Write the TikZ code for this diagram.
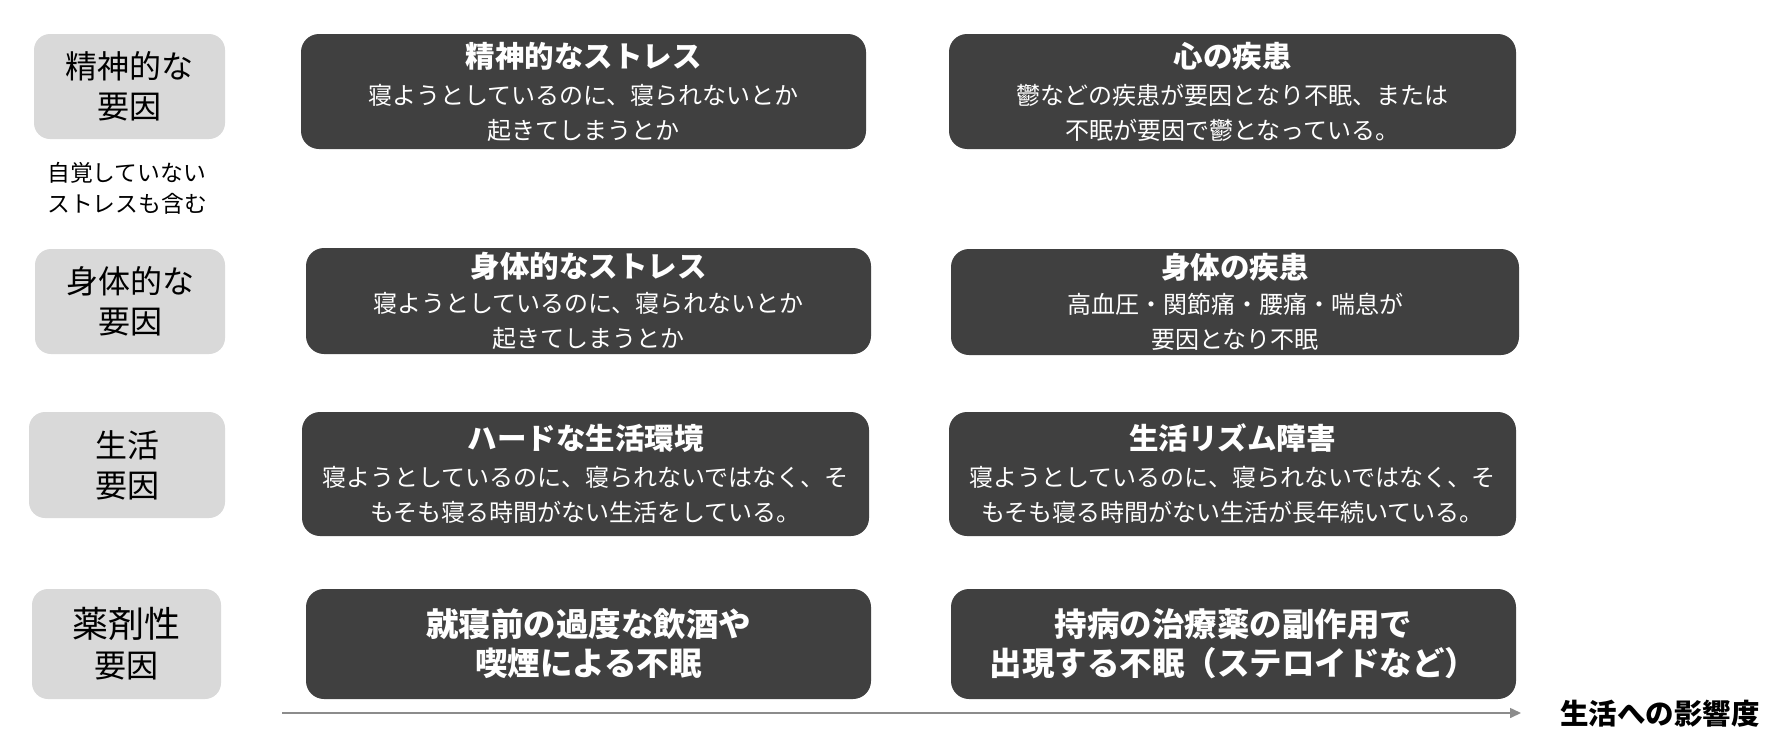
\documentclass[tikz,border=0pt]{standalone}
\usepackage{fontspec}
\setmainfont{Noto Sans CJK JP}
\usetikzlibrary{arrows.meta}
\definecolor{darkfill}{HTML}{404040}
\definecolor{greyfill}{HTML}{D9D9D9}
\definecolor{axisgrey}{HTML}{8C8C8C}
\newcommand{\boxtitle}[1]{{\bfseries\fontsize{29.5}{36}\selectfont #1}}
\tikzset{
  catbox/.style={fill=greyfill, rounded corners=16pt, inner sep=0pt, align=center,
    font=\fontsize{32}{40}\selectfont, text=black},
  darkbox/.style={fill=darkfill, rounded corners=18pt, inner sep=0pt, align=center,
    font=\fontsize{24}{35}\selectfont, text=white},
  boldbox/.style={darkbox, font=\bfseries\fontsize{32.5}{39}\selectfont},
  notetext/.style={inner sep=0pt, align=left, font=\fontsize{22.8}{31}\selectfont, anchor=west},
  axislabel/.style={inner sep=0pt, font=\bfseries\fontsize{28.5}{32}\selectfont, anchor=west},
  axisline/.style={draw=axisgrey, line width=1.5pt, -{Triangle[length=11pt,width=10pt]}}
}
\begin{document}
\begin{tikzpicture}[x=1pt,y=-1pt]
\useasboundingbox (0,0) rectangle (1769,747);
% category boxes
\node[catbox, minimum width=191pt, minimum height=105pt] (g1) at (129.5,86.5) {精神的な\\要因};
\node[catbox, minimum width=190pt, minimum height=105pt] (g2) at (130,301.5) {身体的な\\要因};
\node[catbox, minimum width=196pt, minimum height=106pt] (g3) at (127,465) {生活\\要因};
\node[catbox, minimum width=189pt, minimum height=110pt] (g4) at (126.5,644) {{\fontsize{36}{40}\selectfont 薬剤性}\\要因};
\node[notetext] (note) at (47,188.5) {自覚していない\\ストレスも含む};
% row 1
\node[darkbox, minimum width=565pt, minimum height=115pt] (m1) at (583.5,91.5)
  {\boxtitle{精神的なストレス}\\[2pt]寝ようとしているのに、寝られないとか\\起きてしまうとか};
\node[darkbox, minimum width=567pt, minimum height=115pt] (d1) at (1232.5,91.5)
  {\boxtitle{心の疾患}\\[2pt]鬱などの疾患が要因となり不眠、または\\不眠が要因で鬱となっている。};
% row 2
\node[darkbox, minimum width=565pt, minimum height=106pt] (m2) at (588.5,301)
  {\boxtitle{身体的なストレス}\\寝ようとしているのに、寝られないとか\\起きてしまうとか};
\node[darkbox, minimum width=568pt, minimum height=106pt] (d2) at (1235,302)
  {\boxtitle{身体の疾患}\\高血圧・関節痛・腰痛・喘息が\\要因となり不眠};
% row 3
\node[darkbox, minimum width=567pt, minimum height=124pt] (m3) at (585.5,474)
  {\boxtitle{ハードな生活環境}\\[2pt]寝ようとしているのに、寝られないではなく、そ\\もそも寝る時間がない生活をしている。};
\node[darkbox, minimum width=567pt, minimum height=124pt] (d3) at (1232.5,474)
  {\boxtitle{生活リズム障害}\\[2pt]寝ようとしているのに、寝られないではなく、そ\\もそも寝る時間がない生活が長年続いている。};
% row 4
\node[boldbox, minimum width=565pt, minimum height=110pt] (m4) at (588.5,644)
  {就寝前の過度な飲酒や\\喫煙による不眠};
\node[boldbox, minimum width=565pt, minimum height=110pt] (d4) at (1233.5,644)
  {持病の治療薬の副作用で\\出現する不眠（ステロイドなど）};
% axis
\coordinate (axstart) at (282,713);
\coordinate (axend) at (1521,713);
\draw[axisline] (axstart) -- (axend);
\node[axislabel] (axlabel) at (1560,714) {生活への影響度};
\end{tikzpicture}
\end{document}
